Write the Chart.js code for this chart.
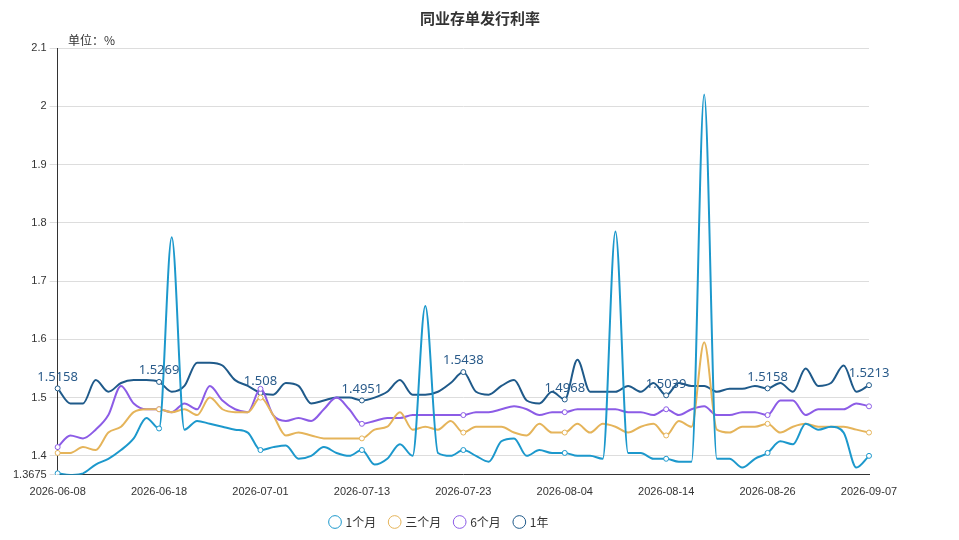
<!DOCTYPE html>
<html>
<head>
<meta charset="utf-8">
<script src="https://cdn.jsdelivr.net/npm/chart.js@4/dist/chart.umd.min.js"></script>
<style>
body { margin: 0; background: #fff; font-family: "Noto Sans CJK SC", sans-serif; }
#wrap { position: relative; width: 959px; height: 540px; }
</style>
</head>
<body>
<div id="wrap"><canvas id="chart" width="959" height="540"></canvas></div>
<script>
var dates = [
  "2026-06-08","2026-06-09","2026-06-10","2026-06-11","2026-06-12","2026-06-15","2026-06-16","2026-06-17",
  "2026-06-18","2026-06-22","2026-06-23","2026-06-24","2026-06-25","2026-06-26","2026-06-29","2026-06-30",
  "2026-07-01","2026-07-02","2026-07-03","2026-07-06","2026-07-07","2026-07-08","2026-07-09","2026-07-10",
  "2026-07-13","2026-07-14","2026-07-15","2026-07-16","2026-07-17","2026-07-20","2026-07-21","2026-07-22",
  "2026-07-23","2026-07-24","2026-07-27","2026-07-28","2026-07-29","2026-07-30","2026-07-31","2026-08-03",
  "2026-08-04","2026-08-05","2026-08-06","2026-08-07","2026-08-10","2026-08-11","2026-08-12","2026-08-13",
  "2026-08-14","2026-08-17","2026-08-18","2026-08-19","2026-08-20","2026-08-21","2026-08-24","2026-08-25",
  "2026-08-26","2026-08-27","2026-08-28","2026-08-31","2026-09-01","2026-09-02","2026-09-03","2026-09-04",
  "2026-09-07"
];
var m1 = [1.37,1.367,1.37,1.385,1.395,1.41,1.43,1.465, 1.447,1.775,1.445,1.46,1.455,1.45,1.445,1.44,
  1.41,1.415,1.418,1.395,1.40,1.415,1.405,1.40, 1.41,1.385,1.395,1.42,1.40,1.657,1.405,1.40,
  1.41,1.40,1.39,1.425,1.43,1.40,1.41,1.405, 1.405,1.40,1.40,1.395,1.785,1.405,1.405,1.395,
  1.395,1.39,1.39,2.02,1.395,1.395,1.38,1.395, 1.405,1.425,1.42,1.455,1.445,1.45,1.44,1.38,1.40];
var m3 = [1.405,1.405,1.415,1.41,1.44,1.45,1.475,1.48, 1.48,1.475,1.48,1.47,1.50,1.48,1.475,1.475,
  1.50,1.47,1.435,1.44,1.435,1.43,1.43,1.43, 1.43,1.445,1.45,1.475,1.445,1.45,1.445,1.46,
  1.44,1.45,1.45,1.45,1.44,1.435,1.455,1.44, 1.44,1.455,1.44,1.455,1.45,1.44,1.45,1.455,
  1.435,1.46,1.45,1.595,1.445,1.44,1.45,1.45, 1.455,1.44,1.45,1.455,1.45,1.45,1.45,1.445,1.44];
var m6 = [1.415,1.435,1.43,1.445,1.47,1.52,1.49,1.48, 1.48,1.475,1.49,1.48,1.52,1.495,1.48,1.475,
  1.515,1.47,1.46,1.465,1.46,1.48,1.50,1.48, 1.455,1.46,1.465,1.465,1.47,1.47,1.47,1.47,
  1.47,1.475,1.475,1.48,1.485,1.48,1.47,1.475, 1.475,1.48,1.48,1.48,1.48,1.475,1.475,1.47,
  1.48,1.47,1.48,1.485,1.47,1.47,1.475,1.475, 1.47,1.495,1.495,1.47,1.48,1.48,1.48,1.49,1.485];
var y1 = [1.5158,1.49,1.49,1.53,1.51,1.525,1.53,1.53, 1.5269,1.51,1.52,1.56,1.56,1.555,1.53,1.52,
  1.508,1.505,1.525,1.52,1.49,1.495,1.50,1.50, 1.4951,1.50,1.51,1.53,1.505,1.505,1.51,1.525,
  1.5438,1.51,1.505,1.52,1.53,1.495,1.49,1.51, 1.4968,1.565,1.51,1.51,1.51,1.52,1.51,1.525,
  1.5039,1.525,1.52,1.52,1.51,1.515,1.515,1.52, 1.5158,1.525,1.51,1.55,1.52,1.525,1.555,1.51,1.5213];
var yTicks = [1.3675,1.4,1.5,1.6,1.7,1.8,1.9,2,2.1];

var step = 8;
function ds(label, data, color) {
  return {
    label: label, data: data, borderColor: color, backgroundColor: '#fff',
    borderWidth: 2, tension: 0.45, cubicInterpolationMode: 'monotone',
    pointRadius: function (c) { return c.dataIndex % step === 0 ? 2.5 : 0; },
    pointBorderWidth: 1, pointBorderColor: color, pointBackgroundColor: '#fff'
  };
}

var labelPlugin = {
  id: 'labels',
  afterDatasetsDraw: function (chart) {
    var ctx = chart.ctx, meta = chart.getDatasetMeta(3);
    ctx.save();
    ctx.font = '13px "Noto Sans", sans-serif';
    ctx.fillStyle = '#2a5b8a';
    ctx.textAlign = 'center';
    ctx.textBaseline = 'bottom';
    meta.data.forEach(function (p, i) {
      if (i % step === 0) ctx.fillText(String(y1[i]), p.x, p.y - 5);
    });
    ctx.restore();
  }
};

var textPlugin = {
  id: 'texts',
  afterDraw: function (chart) {
    var ctx = chart.ctx;
    ctx.save();
    ctx.fillStyle = '#333';
    ctx.font = 'bold 15px "Noto Sans CJK SC"';
    ctx.textAlign = 'center';
    ctx.fillText('同业存单发行利率', 480, 18);
    ctx.font = '12px "Noto Sans CJK SC"';
    ctx.textAlign = 'left';
    ctx.fillText('单位：%', 68, 40);
    ctx.restore();
  }
};

new Chart(document.getElementById('chart'), {
  type: 'line',
  data: {
    labels: dates,
    datasets: [ds('1个月', m1, '#1c98cc'), ds('三个月', m3, '#e5b45a'), ds('6个月', m6, '#8c5ce6'), ds('1年', y1, '#1f5a8a')]
  },
  plugins: [labelPlugin, textPlugin],
  options: {
    responsive: false, animation: false,
    layout: { padding: { top: 48, left: 10, right: 90, bottom: 2 } },
    plugins: {
      tooltip: { enabled: false },
      legend: {
        position: 'bottom',
        labels: { usePointStyle: true, pointStyle: 'circle', boxWidth: 9, boxHeight: 9, padding: 14,
          color: '#333', font: { size: 12, family: '"Noto Sans CJK SC"' } }
      }
    },
    scales: {
      x: {
        offset: false,
        grid: { display: false },
        border: { color: '#333' },
        ticks: {
          autoSkip: false, maxRotation: 0, color: '#333', font: { size: 11 },
          callback: function (v, i) { return i % step === 0 ? dates[i] : ''; }
        }
      },
      y: {
        min: 1.3675, max: 2.1,
        afterBuildTicks: function (ax) { ax.ticks = yTicks.map(function (v) { return { value: v }; }); },
        grid: { color: '#ddd' },
        border: { display: true, color: '#333' },
        ticks: { color: '#333', font: { size: 11 }, callback: function (v) { return String(v); } }
      }
    }
  }
});
</script>
</body>
</html>
